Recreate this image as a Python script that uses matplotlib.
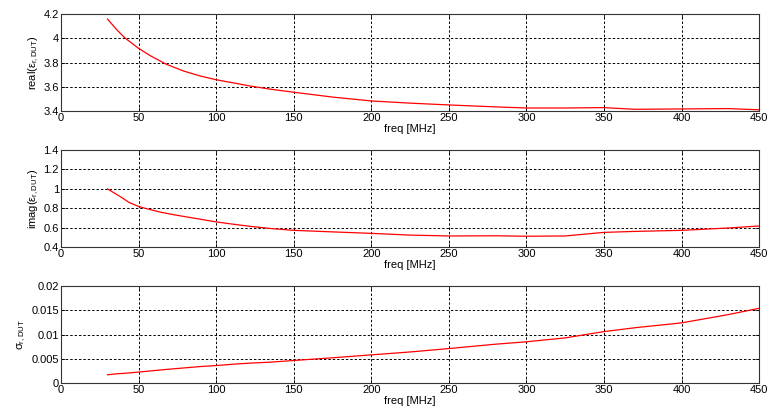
import matplotlib.pyplot as plt
import numpy as np

plt.rcParams['font.family'] = ['Liberation Sans', 'DejaVu Sans']
plt.rcParams['mathtext.fontset'] = 'custom'
plt.rcParams['mathtext.rm'] = 'Liberation Sans'
plt.rcParams['mathtext.it'] = 'Liberation Sans:italic'

# frequency points [MHz]
freq = [30, 36, 41, 50, 58, 68, 79, 90, 100, 112, 122, 135, 150, 175, 200,
        225, 250, 280, 300, 325, 350, 370, 400, 430, 450]
freq_imag = [30, 38, 44, 50, 57, 64, 73, 83, 100, 112, 122, 135, 150, 175,
             200, 225, 250, 280, 300, 325, 350, 370, 400, 430, 450]

eps_real = [4.158, 4.07, 4.005, 3.917, 3.853, 3.785, 3.73, 3.688, 3.658,
            3.63, 3.606, 3.58, 3.555, 3.515, 3.483, 3.465, 3.45, 3.434,
            3.425, 3.425, 3.428, 3.414, 3.417, 3.42, 3.41]

eps_imag = [0.998, 0.921, 0.858, 0.817, 0.787, 0.759, 0.731, 0.704, 0.658,
            0.632, 0.612, 0.59, 0.571, 0.555, 0.54, 0.522, 0.513, 0.515,
            0.51, 0.513, 0.55, 0.56, 0.571, 0.595, 0.616]

sigma = [0.0017, 0.0019, 0.0020, 0.00225, 0.0025, 0.0028, 0.0031, 0.0034,
         0.0036, 0.0039, 0.0041, 0.0043, 0.00464, 0.0052, 0.0058, 0.0064,
         0.0071, 0.0080, 0.0085, 0.0093, 0.0106, 0.0114, 0.0124, 0.0141,
         0.0154]

ylabels = ['real(ε$_{\\rm r,DUT}$)', 'imag(ε$_{\\rm r,DUT}$)',
           'σ$_{\\rm r,DUT}$']
ylims = [(3.4, 4.2), (0.4, 1.4), (0, 0.02)]
yticks = [[3.4, 3.6, 3.8, 4.0, 4.2],
          [0.4, 0.6, 0.8, 1.0, 1.2, 1.4],
          [0, 0.005, 0.01, 0.015, 0.02]]
yticklabels = [['3.4', '3.6', '3.8', '4', '4.2'],
               ['0.4', '0.6', '0.8', '1', '1.2', '1.4'],
               ['0', '0.005', '0.01', '0.015', '0.02']]
xticks = [0, 50, 100, 150, 200, 250, 300, 350, 400, 450]

fig = plt.figure(figsize=(7.68, 4.15), dpi=100)
bottoms = [0.7325, 0.405, 0.0771]
xs = [freq, freq_imag, freq]
series = [eps_real, eps_imag, sigma]

for i in range(3):
    ax = fig.add_axes([0.0794, bottoms[i], 0.909, 0.2337])
    ax.plot(xs[i], series[i], color='red', linewidth=0.9)
    ax.set_xlim(0, 450)
    ax.set_ylim(*ylims[i])
    ax.set_xticks(xticks)
    ax.set_yticks(yticks[i])
    ax.set_yticklabels(yticklabels[i])
    ax.grid(True, color='black', linestyle=(0, (2.5, 2)), linewidth=0.7)
    ax.tick_params(direction='in', length=3, width=0.6, labelsize=8, pad=1.5,
                   top=True, right=True)
    for s in ax.spines.values():
        s.set_linewidth(0.8)
        s.set_color('#333333')
    ax.set_xlabel('freq [MHz]', fontsize=8, labelpad=1)
    ax.set_ylabel(ylabels[i], fontsize=8, labelpad=2)

fig.savefig('out.png', dpi=100)
